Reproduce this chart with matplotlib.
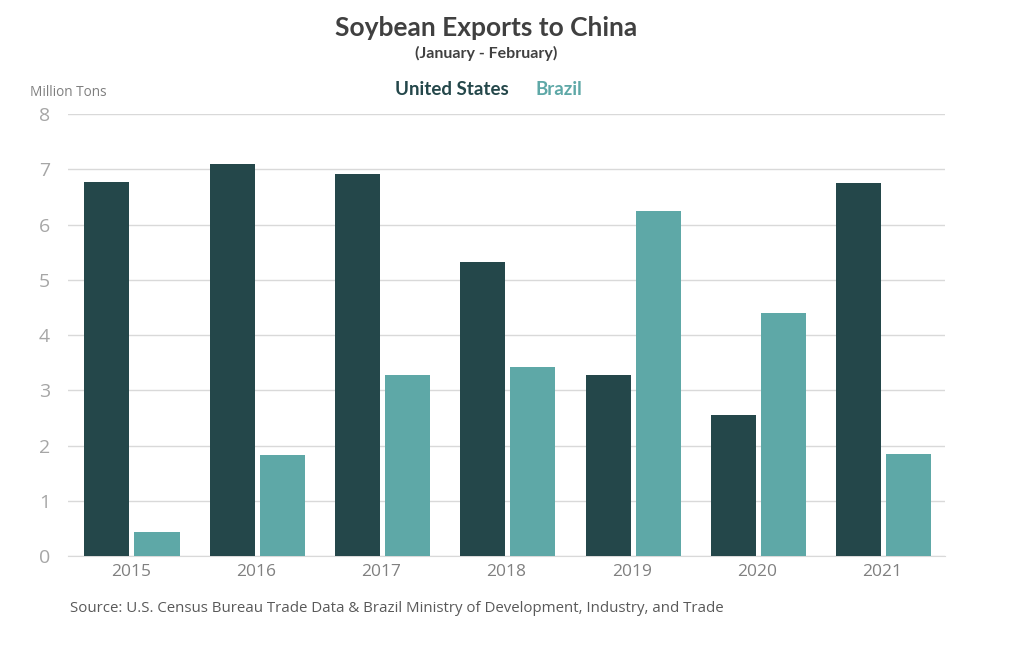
import matplotlib.pyplot as plt
import numpy as np

years = ['2015', '2016', '2017', '2018', '2019', '2020', '2021']
us = [6.77, 7.10, 6.91, 5.32, 3.28, 2.55, 6.75]
brazil = [0.43, 1.83, 3.28, 3.42, 6.24, 4.40, 1.85]

usColor = '#24474a'
brColor = '#5ea8a7'

plt.rcParams['font.family'] = ['Open Sans', 'DejaVu Sans']

fig = plt.figure(figsize=(10.24, 6.49), dpi=100)
ax = fig.add_axes([0.0664, 0.1433, 0.8566, 0.681])

x = np.arange(len(years))
w = 0.36
ax.bar(x - 0.19, us, w, color=usColor, zorder=3)
ax.bar(x + 0.21, brazil, w, color=brColor, zorder=3)

ax.set_xlim(-0.5, 6.5)
ax.set_ylim(0, 8)
ax.set_yticks(range(0, 9))
ax.set_xticks(x)
ax.set_xticklabels(years)
ax.yaxis.grid(True, color='#d9d9d9', linewidth=1, zorder=0)
for s in ['top', 'right', 'left']:
    ax.spines[s].set_visible(False)
ax.spines['bottom'].set_color('#d9d9d9')
ax.tick_params(axis='y', length=0, labelsize=14, labelcolor='#a6a6a6', pad=13)
ax.tick_params(axis='x', length=0, labelsize=12.5, labelcolor='#808080', pad=6)

fig.text(0.475, 0.957, 'Soybean Exports to China', ha='center', va='center',
         fontsize=19, fontweight='bold', color='#404040', family=['Lato', 'DejaVu Sans'])
fig.text(0.475, 0.918, '(January - February)', ha='center', va='center',
         fontsize=11.5, fontweight='bold', color='#404040', family=['Lato', 'DejaVu Sans'])
fig.text(0.497, 0.862, 'United States', ha='right', va='center',
         fontsize=13.5, fontweight='bold', color=usColor, family=['Lato', 'DejaVu Sans'])
fig.text(0.523, 0.862, 'Brazil', ha='left', va='center',
         fontsize=13.5, fontweight='bold', color=brColor, family=['Lato', 'DejaVu Sans'])
fig.text(0.029, 0.858, 'Million Tons', ha='left', va='center', fontsize=9.8, color='#7f7f7f')
fig.text(0.068, 0.063, 'Source: U.S. Census Bureau Trade Data & Brazil Ministry of Development, Industry, and Trade',
         ha='left', va='center', fontsize=10.8, color='#595959')

fig.savefig('out.png', dpi=100)
